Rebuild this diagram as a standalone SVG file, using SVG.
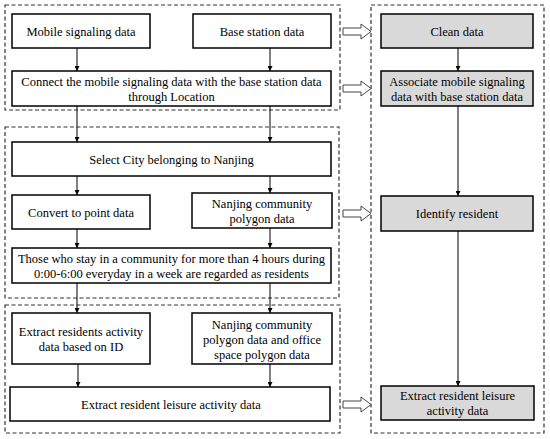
<svg xmlns="http://www.w3.org/2000/svg" width="550" height="439" viewBox="0 0 550 439">
<defs>
<marker id="ah" viewBox="0 0 8 8" refX="8" refY="4" markerWidth="5" markerHeight="5" orient="auto" markerUnits="userSpaceOnUse">
<path d="M0,0 L8,4 L0,8 z" fill="#000"/>
</marker>
</defs>
<style>
.grp{fill:none;stroke:#333;stroke-width:1.2;stroke-dasharray:4,2.5}
.box{fill:#fff;stroke:#000;stroke-width:1.5}
.gbox{fill:#d9d9d9;stroke:#000;stroke-width:1.5}
.t{font-family:"Liberation Serif","Times New Roman",serif;font-size:12.5px;fill:#000;text-anchor:middle}
.ln{stroke:#000;stroke-width:1;fill:none;marker-end:url(#ah)}
.blk{fill:#fff;stroke:#444;stroke-width:1}
</style>
<rect width="550" height="439" fill="#fff"/>
<g id="groups">
<rect class="grp" x="5" y="5" width="335" height="105"/>
<rect class="grp" x="5" y="127" width="334" height="171"/>
<rect class="grp" x="5" y="305" width="335" height="128"/>
<rect class="grp" x="371" y="5" width="173" height="428"/>
</g>
<g id="connectors">
<line class="ln" x1="77" y1="48" x2="77" y2="71"/>
<line class="ln" x1="270" y1="48" x2="270" y2="71"/>
<line class="ln" x1="77" y1="106" x2="77" y2="142"/>
<line class="ln" x1="270" y1="106" x2="270" y2="142"/>
<line class="ln" x1="77" y1="176" x2="77" y2="195"/>
<line class="ln" x1="270" y1="176" x2="270" y2="193"/>
<line class="ln" x1="77" y1="229" x2="77" y2="248"/>
<line class="ln" x1="270" y1="228" x2="270" y2="248"/>
<line class="ln" x1="77" y1="283" x2="77" y2="313"/>
<line class="ln" x1="270" y1="283" x2="270" y2="313"/>
<line class="ln" x1="78" y1="364" x2="78" y2="387"/>
<line class="ln" x1="270" y1="364" x2="270" y2="387"/>
<line class="ln" x1="458" y1="48" x2="458" y2="71"/>
<line class="ln" x1="458" y1="106" x2="458" y2="196"/>
<line class="ln" x1="458" y1="231" x2="458" y2="386"/>
<path class="blk" d="M343,28 L361,28 L361,24 L371,31.5 L361,39 L361,35 L343,35 Z"/>
<path class="blk" d="M343,85 L361,85 L361,81 L371,88.5 L361,96 L361,92 L343,92 Z"/>
<path class="blk" d="M343,210 L361,210 L361,206 L371,213.5 L361,221 L361,217 L343,217 Z"/>
<path class="blk" d="M343,401 L361,401 L361,397 L371,404.5 L361,412 L361,408 L343,408 Z"/>
</g>
<g id="n1"><rect class="box" x="12" y="14" width="138" height="34"/><text class="t" x="81" y="35.5">Mobile signaling data</text></g>
<g id="n2"><rect class="box" x="193" y="14" width="138" height="34"/><text class="t" x="262" y="35.5">Base station data</text></g>
<g id="n3"><rect class="box" x="12" y="71" width="319" height="35"/><text class="t" x="171.5" y="86">Connect the mobile signaling data with the base station data</text><text class="t" x="171.5" y="101">through Location</text></g>
<g id="n4"><rect class="box" x="12" y="142" width="319" height="34"/><text class="t" x="171.5" y="163.5">Select City belonging to Nanjing</text></g>
<g id="n5"><rect class="box" x="12" y="195" width="138" height="34"/><text class="t" x="81" y="216.5">Convert to point data</text></g>
<g id="n6"><rect class="box" x="192" y="193" width="140" height="35"/><text class="t" x="262" y="208">Nanjing community</text><text class="t" x="262" y="223">polygon data</text></g>
<g id="n7"><rect class="box" x="12" y="248" width="319" height="35"/><text class="t" x="171.5" y="263">Those who stay in a community  for more than 4 hours during</text><text class="t" x="171.5" y="278">0:00-6:00 everyday in a week are regarded as residents</text></g>
<g id="n8"><rect class="box" x="12" y="313" width="138" height="51"/><text class="t" x="81" y="336">Extract residents activity</text><text class="t" x="81" y="351">data based on ID</text></g>
<g id="n9"><rect class="box" x="192" y="313" width="140" height="51"/><text class="t" x="262" y="328.5">Nanjing community</text><text class="t" x="262" y="343.5">polygon data and office</text><text class="t" x="262" y="358.5">space polygon data</text></g>
<g id="n10"><rect class="box" x="10" y="387" width="320" height="34"/><text class="t" x="171" y="408.5">Extract resident leisure activity data</text></g>
<g id="r1"><rect class="gbox" x="381" y="14" width="152" height="34"/><text class="t" x="457" y="35.5">Clean data</text></g>
<g id="r2"><rect class="gbox" x="381" y="71" width="152" height="35"/><text class="t" x="457" y="86">Associate mobile signaling</text><text class="t" x="457" y="101">data with base station data</text></g>
<g id="r3"><rect class="gbox" x="381" y="196" width="152" height="35"/><text class="t" x="457" y="218">Identify resident</text></g>
<g id="r4"><rect class="gbox" x="381" y="386" width="153" height="34"/><text class="t" x="457.5" y="400">Extract resident leisure</text><text class="t" x="457.5" y="415">activity data</text></g>
</svg>
